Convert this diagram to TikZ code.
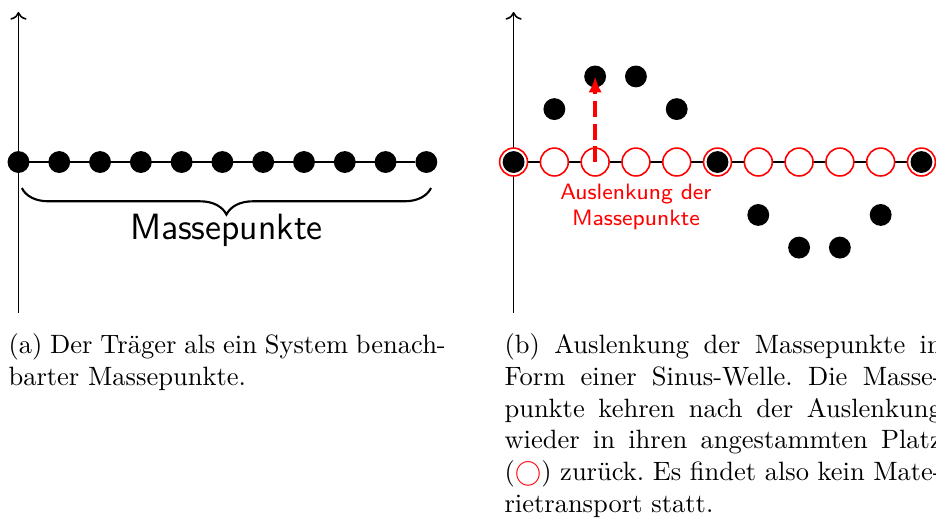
\documentclass[tikz,border=0pt]{standalone}
\usetikzlibrary{
  positioning,
  calc,
  arrows.meta,
  decorations.pathreplacing,
  backgrounds}
\tikzset{
  axis_arrow/.style={->, semithick},
  shift_arrow/.style={-{Latex[length=6pt, width=5pt]}, red, ultra thick,
    dash pattern=on 6pt off 2.5pt}
}
\tikzset{
  %% mass : a mass point of the carrier
  mass/.style={
    circle,
    fill=black,
    minimum size=0.29cm,
    inner sep=0pt,
    outer sep=0pt,
    on grid
  },
  %% rest : rest position of a mass point
  rest/.style={
    circle,
    draw=red,
    semithick,
    fill=white,
    minimum size=0.37cm,
    inner sep=0pt,
    on grid
  },
  %% beam : the line through the mass points
  beam/.style={black, semithick},
  %% brace_line : curly brace below the mass points
  %% This is a path, use as
  %%    \draw [brace_line] (left) -- (right);
  brace_line/.style={decorate, decoration={brace, mirror, amplitude=10pt}, thick},
  %% captext : text below a sub-picture
  captext/.style={
    text width=5.8cm,
    align=justify,
    inner sep=0pt,
    anchor=base west,
    execute at begin node=\frenchspacing
  }
}

\begin{document}
\begin{tikzpicture}
  [x=1cm,
  y=-1cm,
  node distance=0.541cm]

  \useasboundingbox (0, 0) rectangle (12.415, 6.871);

  %%% (a) Carrier as a chain of mass points
  \node (a0) [mass] at (0.245, 2.149) {};
  \node (a1) [mass, right=of a0] {};
  \node (a2) [mass, right=of a1] {};
  \node (a3) [mass, right=of a2] {};
  \node (a4) [mass, right=of a3] {};
  \node (a5) [mass, right=of a4] {};
  \node (a6) [mass, right=of a5] {};
  \node (a7) [mass, right=of a6] {};
  \node (a8) [mass, right=of a7] {};
  \node (a9) [mass, right=of a8] {};
  \node (a10) [mass, right=of a9] {};

  \coordinate (a-top) at (0.245, 0.159);
  \coordinate (a-bot) at (0.245, 4.152);

  \begin{scope}[on background layer]
    \draw [axis_arrow] (a-bot) -- (a-top);
    \draw [beam] (a0) -- (a10);
  \end{scope}

  %% Brace with label
  \coordinate (brace-l) at ($(a0.south) + (0.045, 0.2)$);
  \coordinate (brace-r) at ($(a10.south) + (0.062, 0.2)$);
  \draw [brace_line] (brace-l) -- (brace-r);
  \node (massepunkte) [anchor=base, font=\fontsize{13.8}{16}\selectfont\sffamily]
    at ($(brace-l)!0.5!(brace-r) + (0, 0.689)$) {Massepunkte};

  %%% (b) Displacement as a sine wave
  \node (b0) [rest] at (6.812, 2.149) {};
  \node (b1) [rest, right=of b0] {};
  \node (b2) [rest, right=of b1] {};
  \node (b3) [rest, right=of b2] {};
  \node (b4) [rest, right=of b3] {};
  \node (b5) [rest, right=of b4] {};
  \node (b6) [rest, right=of b5] {};
  \node (b7) [rest, right=of b6] {};
  \node (b8) [rest, right=of b7] {};
  \node (b9) [rest, right=of b8] {};
  \node (b10) [rest, right=of b9] {};

  \coordinate (b-top) at (6.812, 0.159);
  \coordinate (b-bot) at (6.812, 4.152);

  \begin{scope}[on background layer]
    \draw [axis_arrow] (b-bot) -- (b-top);
    \draw [beam] (b0) -- (b10);
  \end{scope}

  %% Displaced mass points
  \node (m0) [mass] at (b0) {};
  \node (m1) [mass, yshift=0.702cm] at (b1) {};
  \node (m2) [mass, yshift=1.135cm] at (b2) {};
  \node (m3) [mass, yshift=1.135cm] at (b3) {};
  \node (m4) [mass, yshift=0.702cm] at (b4) {};
  \node (m5) [mass] at (b5) {};
  \node (m6) [mass, yshift=-0.702cm] at (b6) {};
  \node (m7) [mass, yshift=-1.135cm] at (b7) {};
  \node (m8) [mass, yshift=-1.135cm] at (b8) {};
  \node (m9) [mass, yshift=-0.702cm] at (b9) {};
  \node (m10) [mass] at (b10) {};

  \draw [shift_arrow] (b2.center) -- (m2.center);

  \node (shiftlabel) [below=0.09cm of b3, red, align=center, inner sep=0pt,
    font=\fontsize{8.4}{9.8}\selectfont\sffamily]{%
    Auslenkung der\\Massepunkte
  };

  %%% Captions
  \node (capa) [captext] at (0.106, 4.689) {%
    (a) Der Träger als ein System benach-\linebreak
    barter Massepunkte.
  };

  \node (capb) [captext] at (6.685, 4.689) {%
    (b) Auslenkung der Massepunkte in\linebreak
    Form einer Sinus-Welle. Die Masse-\linebreak
    punkte kehren nach der Auslenkung\linebreak
    wieder in ihren angestammten Platz\linebreak
    (\textcolor{red}{$\bigcirc$}) zurück. Es findet also kein Mate-\linebreak
    rietransport statt.
  };

\end{tikzpicture}
\end{document}
